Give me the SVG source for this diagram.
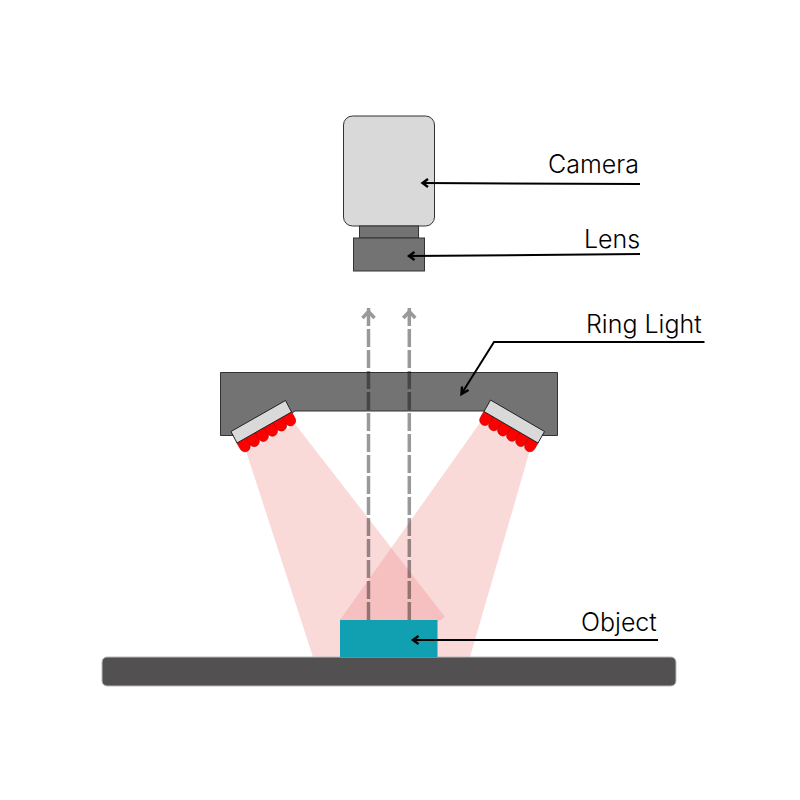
<svg xmlns="http://www.w3.org/2000/svg" width="800" height="800" viewBox="0 0 800 800">
<style>
text{font-family:"Inter","Liberation Sans",sans-serif;font-weight:300;font-size:25px;fill:#000}
.dark{fill:#737373;stroke:#333;stroke-width:1}
.beam{fill:#f09090;fill-opacity:.34}
.led{fill:#fe0000;stroke:#b00;stroke-width:.6}
.ray{fill:none;stroke:#000;stroke-opacity:.4;stroke-width:3.5;stroke-dasharray:18 3}
.rayh{fill:none;stroke:#999;stroke-width:3.5}
.lead{fill:none;stroke:#000;stroke-width:2}
.head{fill:none;stroke:#000;stroke-width:2.4}
</style>
<defs><path id="l" class="led" d="M-5.300 -1V7A5.300 5.300 0 0 0 5.300 7V-1Z"/></defs>
<g id="ring-light">
<path class="dark" d="M220.500 372.500H557.500V435.500H520L485 411H295L260 435.500H220.500Z"/>
</g>
<g id="light-beams">
<path class="beam" d="M246 451L295 424L445 617L437 622V657H313Z"/>
<path class="beam" d="M482 420L530 450L470 657H340V620Z"/>
</g>
<g id="led-left">
<use href="#l" transform="translate(241.500 440.400) rotate(-29.600)"/>
<use href="#l" transform="translate(250.600 435.200) rotate(-29.600)"/>
<use href="#l" transform="translate(259.700 430.100) rotate(-29.600)"/>
<use href="#l" transform="translate(268.800 424.900) rotate(-29.600)"/>
<use href="#l" transform="translate(277.800 419.700) rotate(-29.600)"/>
<use href="#l" transform="translate(286.900 414.600) rotate(-29.600)"/>
<path d="M231 431.500L285.500 400.500L291.500 412L237 443Z" fill="#d9d9d9" stroke="#222" stroke-width="1"/>
</g>
<g id="led-right">
<use href="#l" transform="translate(488.500 414.100) rotate(30.300)"/>
<use href="#l" transform="translate(497.500 419.400) rotate(30.300)"/>
<use href="#l" transform="translate(506.500 424.600) rotate(30.300)"/>
<use href="#l" transform="translate(515.500 429.900) rotate(30.300)"/>
<use href="#l" transform="translate(524.500 435.100) rotate(30.300)"/>
<use href="#l" transform="translate(533.500 440.400) rotate(30.300)"/>
<path d="M490.500 400L544.500 431.500L538 443L484 411.500Z" fill="#d9d9d9" stroke="#222" stroke-width="1"/>
</g>
<g id="stage"><rect x="102" y="657" width="574" height="29" rx="5" fill="#525050" stroke="#bbb" stroke-width="1"/></g>
<g id="camera">
<rect x="343.500" y="116" width="91" height="110" rx="9" fill="#d9d9d9" stroke="#333" stroke-width="1"/>
</g>
<g id="lens">
<rect x="359.500" y="226" width="59" height="12" class="dark"/>
<rect x="353.500" y="238" width="71" height="33" class="dark"/>
</g>
<g id="object"><rect x="340" y="620" width="97.500" height="37" fill="#11a0b2"/></g>
<g id="connectors">
<path class="ray" d="M368.500 620V308"/>
<path class="ray" d="M409.300 620V308"/>
<path class="rayh" d="M362.500 318L368.500 311.500L374.500 318M403.300 318L409.300 311.500L415.300 318"/>
<path class="lead" d="M640 184L423 183"/>
<path class="head" d="M428 179L422.500 183L428 187"/>
<path class="lead" d="M640 254L409 256"/>
<path class="head" d="M414.500 252L409 256L414.500 260"/>
<path class="lead" d="M704.500 342L494 342L462 393"/>
<path class="head" d="M462 386.500L461.500 394L468.500 390"/>
<path class="lead" d="M658 640L413 640"/>
<path class="head" d="M418.500 636L413 640L418.500 644"/>
</g>
<g id="labels">
<text x="548" y="173">Camera</text>
<text x="584" y="248">Lens</text>
<text x="586" y="333">Ring Light</text>
<text x="581" y="631">Object</text>
</g>
</svg>
